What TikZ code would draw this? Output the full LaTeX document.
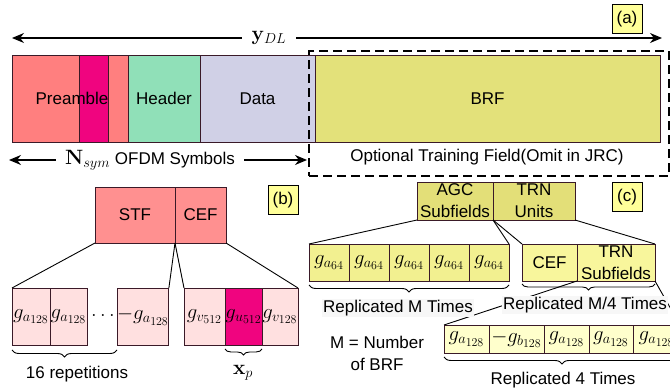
\documentclass[tikz,border=0pt]{standalone}
\usepackage[no-math]{fontspec}
\setmainfont{Liberation Sans}
\usepackage{amsmath}
\usetikzlibrary{positioning,arrows.meta,decorations.pathreplacing}

\definecolor{preamc}{HTML}{FF7F7F}
\definecolor{magc}{HTML}{F0047F}
\definecolor{hdrc}{HTML}{90E0B8}
\definecolor{datc}{HTML}{D0D0E6}
\definecolor{brfc}{HTML}{E3E17A}
\definecolor{tagc}{HTML}{FFFF99}
\definecolor{stfc}{HTML}{FF9090}
\definecolor{seqc}{HTML}{FFE0E0}
\definecolor{agcc}{HTML}{E3DF78}
\definecolor{g64c}{HTML}{F2F090}
\definecolor{trnc}{HTML}{F8F69C}
\definecolor{gtwc}{HTML}{FFFFCC}
\definecolor{edgec}{HTML}{3A1A28}

\DeclareMathSizes{21}{21}{14.7}{11.8}
\newcommand\lblsize{\fontsize{17}{22}\selectfont}
\newcommand\seqsize{\fontsize{21}{24}\selectfont}

\tikzset{
  fld/.style={draw=edgec, line width=0.8pt, inner sep=0pt, outer sep=0pt, font=\lblsize},
  seqbox/.style={fld, font=\seqsize},
  tag/.style={draw=black, line width=0.8pt, fill=tagc, minimum width=30, minimum height=29, inner sep=0pt, font=\lblsize},
  dimarrow/.style={-{Stealth[length=12pt,width=10pt]}, line width=1.2pt},
  zoomline/.style={line width=0.9pt},
  rep/.style={decorate, decoration={brace, mirror, amplitude=7pt}, line width=0.9pt},
  note/.style={font=\lblsize, inner sep=1pt},
}

\begin{document}
\begin{tikzpicture}[x=1pt, y=-1pt]
\clip (0,0) rectangle (670,390);

% frame
\node[fld, fill=preamc, minimum width=67, minimum height=87, anchor=north west] (pre1) at (12,55) {};
\node[fld, fill=magc, minimum width=29, minimum height=87, right=0pt of pre1] (pre2) {};
\node[fld, fill=preamc, minimum width=20, minimum height=87, right=0pt of pre2] (pre3) {};
\node[fld, fill=hdrc, minimum width=72, minimum height=87, right=0pt of pre3] (hdr) {Header};
\node[fld, fill=datc, minimum width=115, minimum height=87, right=0pt of hdr] (dat) {Data};
\node[fld, fill=brfc, minimum width=345, minimum height=87, right=0pt of dat] (brf) {BRF};
\node[note] (prelbl) at (72,98) {Preamble};
\node[draw, dash pattern=on 9pt off 5pt, line width=2.2pt, minimum width=360, minimum height=125, anchor=north west, inner sep=0pt] (optbox) at (308,50) {};
\node[note] (optlbl) at (487,157) {Optional Training Field(Omit in JRC)};
\node[tag] (taga) at (627,19) {(a)};

\node[note, font=\seqsize, inner sep=10pt] (ydl) at (269,38) {$\mathbf{y}_{DL}$};
\coordinate (ydlL) at (12,38);
\coordinate (ydlR) at (662,38);
\draw[dimarrow] (ydl.west) -- (ydlL);
\draw[dimarrow] (ydl.east) -- (ydlR);

\node[note, inner sep=9pt] (nsym) at (150,160) {{\seqsize$\mathbf{N}_{sym}$} OFDM Symbols};
\coordinate (nsymL) at (9,160);
\coordinate (nsymR) at (307,160);
\draw[dimarrow] (nsym.west) -- (nsymL);
\draw[dimarrow] (nsym.east) -- (nsymR);

% preamble
\node[fld, fill=stfc, minimum width=80, minimum height=56, anchor=north west] (stf) at (95,187) {STF};
\node[fld, fill=stfc, minimum width=51, minimum height=56, right=0pt of stf] (cef) {CEF};
\node[tag] (tagb) at (283,200) {(b)};

\node[seqbox, fill=seqc, minimum width=38, minimum height=57, anchor=north west] (s1) at (12,288) {$g_{a_{128}}$};
\node[seqbox, fill=seqc, minimum width=37, minimum height=57, right=0pt of s1] (s2) {$g_{a_{128}}$};
\node[seqbox, fill=seqc, minimum width=48, minimum height=57, anchor=north west] (s3) at (117,288) {$-g_{a_{128}}$};
\node[font=\seqsize, inner sep=0pt] (dots) at (103,315) {$\ldots$};
\node[seqbox, fill=seqc, minimum width=41, minimum height=57, anchor=north west] (c1) at (184,288) {$g_{v_{512}}$};
\node[seqbox, fill=magc, minimum width=37, minimum height=57, right=0pt of c1] (c2) {$g_{u_{512}}$};
\node[seqbox, fill=seqc, minimum width=36, minimum height=57, right=0pt of c2] (c3) {$g_{v_{128}}$};

\draw[zoomline] (stf.south west) -- (s1.north west);
\draw[zoomline] (stf.south east) -- (s3.north east);
\draw[zoomline] (cef.south west) -- (c1.north west);
\draw[zoomline] (cef.south east) -- (c3.north east);

\draw[rep] ([yshift=-5pt]s1.south west) -- ([yshift=-5pt]s3.south west);
\draw[rep, decoration={amplitude=6pt}] ([yshift=-4pt]c2.south west) -- ([yshift=-4pt]c2.south east);
\node[note] (reps) at (77,374) {16 repetitions};
\node[note, font=\seqsize] (xp) at (243,373) {$\mathbf{x}_p$};

% BRF
\node[fld, fill=agcc, minimum width=76, minimum height=38, anchor=north west, align=center] (agc) at (417,182) {AGC\\Subfields};
\node[fld, fill=agcc, minimum width=82, minimum height=38, right=0pt of agc, align=center] (trnu) {TRN\\Units};
\node[tag] (tagc) at (627,197) {(c)};

\node[seqbox, fill=g64c, minimum width=40, minimum height=37, anchor=north west] (a1) at (309,244) {$g_{a_{64}}$};
\node[seqbox, fill=g64c, minimum width=40, minimum height=37, right=0pt of a1] (a2) {$g_{a_{64}}$};
\node[seqbox, fill=g64c, minimum width=40, minimum height=37, right=0pt of a2] (a3) {$g_{a_{64}}$};
\node[seqbox, fill=g64c, minimum width=40, minimum height=37, right=0pt of a3] (a4) {$g_{a_{64}}$};
\node[seqbox, fill=g64c, minimum width=40, minimum height=37, right=0pt of a4] (a5) {$g_{a_{64}}$};
\node[fld, fill=trnc, minimum width=55, minimum height=37, anchor=north west] (cefb) at (522,244) {CEF};
\node[fld, fill=trnc, minimum width=78, minimum height=37, right=0pt of cefb, align=center] (trns) {TRN\\Subfields};

\node[seqbox, fill=gtwc, minimum width=45, minimum height=28, anchor=north west] (r1) at (444,325) {$g_{a_{128}}$};
\node[seqbox, fill=gtwc, minimum width=55, minimum height=28, right=0pt of r1] (r2) {$-g_{b_{128}}$};
\node[seqbox, fill=gtwc, minimum width=45, minimum height=28, right=0pt of r2] (r3) {$g_{a_{128}}$};
\node[seqbox, fill=gtwc, minimum width=44, minimum height=28, right=0pt of r3] (r4) {$g_{a_{128}}$};
\node[seqbox, fill=gtwc, minimum width=47, minimum height=28, right=0pt of r4] (r5) {$g_{a_{128}}$};

\draw[zoomline] (agc.south west) -- (a1.north west);
\draw[zoomline] (agc.south east) -- (a5.north east);
\draw[zoomline] (trnu.south west) -- (cefb.north west);
\draw[zoomline] (trnu.south east) -- (trns.north east);
\draw[zoomline] (trns.south west) -- (r1.north west);
\draw[zoomline] (trns.south east) -- (r5.north east);

\draw[rep] ([yshift=-4pt]a1.south west) -- ([yshift=-4pt]a5.south east);
\draw[rep, decoration={amplitude=6pt}] ([yshift=-3pt]cefb.south west) -- ([yshift=-3pt]trns.south east);
\draw[rep] ([yshift=-4pt]r1.south west) -- ([yshift=-4pt]r5.south east);

\node[note, fill=gray!6] (repm) at (398,308) {Replicated M Times};
\node[note, fill=gray!6] (repmq) at (585,305) {Replicated M/4 Times};
\node[note] (repf) at (563,380) {Replicated 4 Times};
\node[note, align=center] (mdef) at (377,353) {M = Number\\of BRF};
\end{tikzpicture}
\end{document}
